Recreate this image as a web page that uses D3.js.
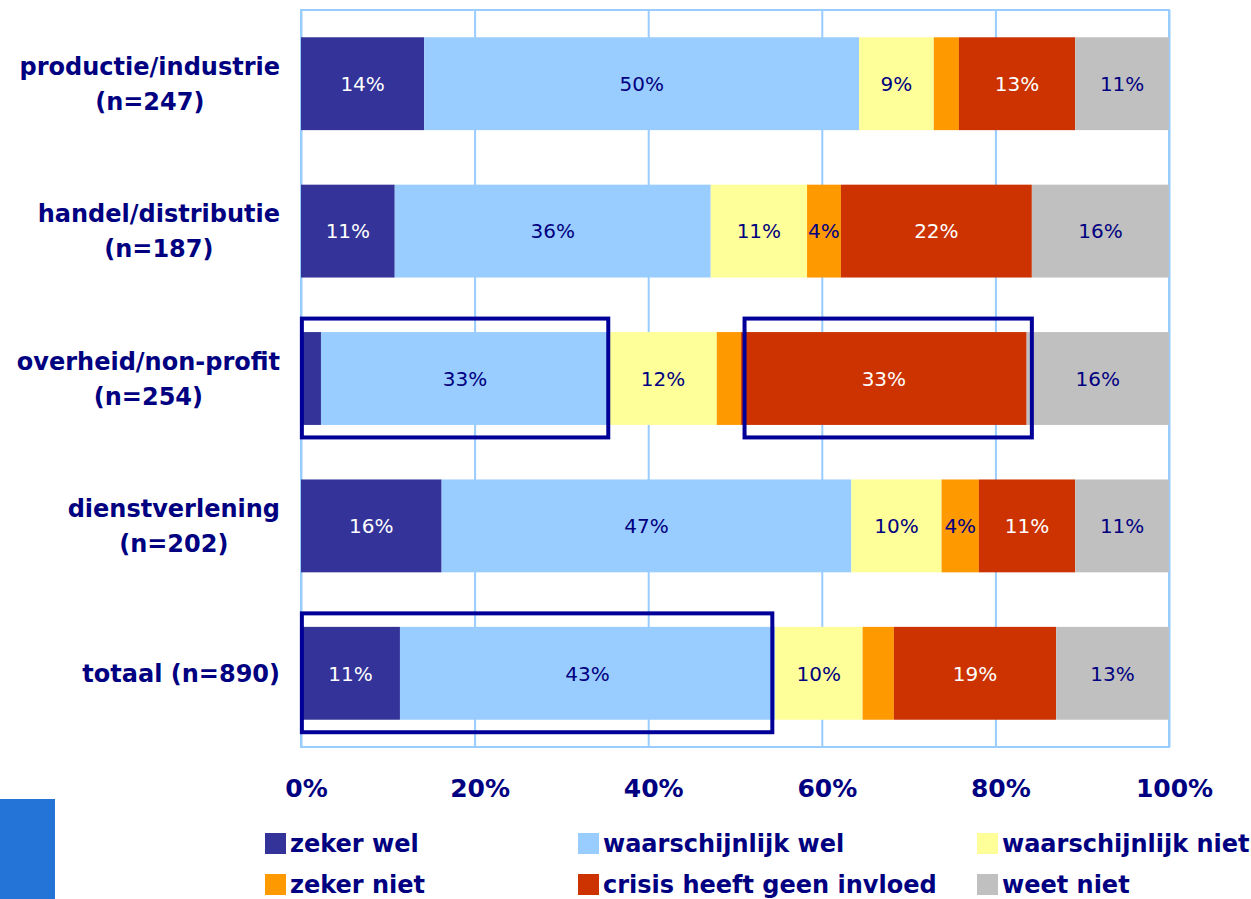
<!DOCTYPE html>
<html>
<head>
<meta charset="utf-8">
<script src="https://cdn.jsdelivr.net/npm/d3@7"></script>
<style>
  html, body { margin: 0; padding: 0; background: #ffffff; }
  svg { display: block; }
</style>
</head>
<body>
<svg id="chart" width="1251" height="899"></svg>
<script>
// ---- data ----
const categories = [
  "productie/industrie\n(n=247)",
  "handel/distributie\n(n=187)",
  "overheid/non-profit\n(n=254)",
  "dienstverlening\n(n=202)",
  "totaal (n=890)"
];
const seriesNames = ["zeker wel", "waarschijnlijk wel", "waarschijnlijk niet", "zeker niet", "crisis heeft geen invloed", "weet niet"];
const zekerWel           = [14.2, 10.8,  2.3, 16.2, 11.4];
const waarschijnlijkWel  = [50.1, 36.4, 33.2, 47.2, 43.2];
const waarschijnlijkNiet = [ 8.6, 11.1, 12.4, 10.4, 10.1];
const zekerNiet          = [ 2.9,  3.9,  2.8,  4.3,  3.6];
const crisisGeenInvloed  = [13.4, 22.0, 32.9, 11.1, 18.7];
const weetNiet           = [10.8, 15.8, 16.4, 10.8, 13.0];
const tickValues = [0, 20, 40, 60, 80, 100];
const tickLabels = ["0%", "20%", "40%", "60%", "80%", "100%"];
// highlight boxes (category index, from %, to %)
const boxCategory = [2, 2, 4];
const boxFrom     = [0.1, 51.1, 0.1];
const boxTo       = [35.4, 84.2, 54.3];

// ---- styles ----
const colors = ["#333399", "#99CCFF", "#FFFF99", "#FF9900", "#CC3300", "#C0C0C0"];
const labelColors = ["#ffffff", "#000080", "#000080", "#000080", "#ffffff", "#000080"];
const navy = "#000080";
const gridColor = "#99CCFF";

const seriesValues = [zekerWel, waarschijnlijkWel, waarschijnlijkNiet, zekerNiet, crisisGeenInvloed, weetNiet];
const rows = categories.map((c, i) => {
  const r = { cat: c };
  seriesNames.forEach((s, j) => r[s] = seriesValues[j][i]);
  return r;
});
const stacked = d3.stack().keys(seriesNames)(rows);

const svg = d3.select("#chart");
const plot = { left: 301, right: 1169, top: 10, bottom: 747 };

const x = d3.scaleLinear().domain([0, 100]).range([plot.left, plot.right]);
const y = d3.scaleBand().domain(categories).range([plot.top, plot.bottom])
  .paddingInner(0.37).paddingOuter(0.185);

// gridlines
const grid = svg.append("g")
  .attr("transform", `translate(0,${plot.top})`)
  .call(d3.axisBottom(x).tickValues(tickValues).tickSize(plot.bottom - plot.top).tickFormat(""));
grid.select(".domain").remove();
grid.selectAll(".tick line").attr("stroke", gridColor).attr("stroke-width", 2);

// frame
svg.append("rect")
  .attr("x", plot.left).attr("y", plot.top)
  .attr("width", plot.right - plot.left).attr("height", plot.bottom - plot.top)
  .attr("fill", "none").attr("stroke", gridColor).attr("stroke-width", 2);

// bars
const layers = svg.append("g").selectAll("g").data(stacked).join("g")
  .attr("fill", (d, i) => colors[i]);
layers.selectAll("rect").data(d => d).join("rect")
  .attr("x", d => x(d[0]))
  .attr("y", d => y(d.data.cat))
  .attr("width", d => x(d[1]) - x(d[0]))
  .attr("height", y.bandwidth());

// segment labels
stacked.forEach((layer, i) => {
  svg.append("g").selectAll("text").data(layer.filter(d => (d[1] - d[0]) >= 3.75)).join("text")
    .attr("x", d => (x(d[0]) + x(d[1])) / 2)
    .attr("y", d => y(d.data.cat) + y.bandwidth() / 2)
    .attr("dy", "0.36em")
    .attr("text-anchor", "middle")
    .attr("font-family", "'DejaVu Sans', sans-serif")
    .attr("font-size", 20)
    .attr("fill", labelColors[i])
    .text(d => Math.round(d[1] - d[0]) + "%");
});

// highlight boxes
svg.append("g").selectAll("rect").data(boxCategory).join("rect")
  .attr("x", (c, i) => x(boxFrom[i]))
  .attr("y", c => y(categories[c]) - 13.5)
  .attr("width", (c, i) => x(boxTo[i]) - x(boxFrom[i]))
  .attr("height", y.bandwidth() + 26)
  .attr("fill", "none")
  .attr("stroke", "#000099")
  .attr("stroke-width", 4);

// x axis tick labels
const xAxis = svg.append("g")
  .attr("transform", `translate(5,${plot.bottom})`)
  .call(d3.axisBottom(x).tickValues(tickValues).tickSize(0).tickPadding(0)
    .tickFormat((d, i) => tickLabels[i]));
xAxis.select(".domain").remove();
xAxis.selectAll("text")
  .attr("y", 50).attr("dy", 0)
  .attr("font-family", "'DejaVu Sans', sans-serif")
  .attr("font-weight", "bold")
  .attr("font-size", 25)
  .attr("fill", navy);

// category labels (block right-aligned, lines centred)
const catG = svg.append("g");
categories.forEach(c => {
  const lines = c.split("\n");
  const cy = y(c) + y.bandwidth() / 2;
  const lh = 35;
  const t = catG.append("text")
    .attr("font-family", "'DejaVu Sans', sans-serif")
    .attr("font-weight", "bold")
    .attr("font-size", 24)
    .attr("fill", navy)
    .attr("text-anchor", "middle");
  const tsp = lines.map((l, k) => t.append("tspan")
    .attr("y", cy + (k - (lines.length - 1) / 2) * lh)
    .attr("dy", "0.36em")
    .text(l));
  const maxW = d3.max(tsp, s => s.node().getComputedTextLength());
  tsp.forEach(s => s.attr("x", 280 - maxW / 2));
});

// legend
const legX = [265, 578, 977];
const legY = [833, 874];
const leg = svg.append("g");
seriesNames.forEach((s, i) => {
  const col = i % 3, row = Math.floor(i / 3);
  leg.append("rect")
    .attr("x", legX[col]).attr("y", legY[row])
    .attr("width", 21).attr("height", 21)
    .attr("fill", colors[i]);
  leg.append("text")
    .attr("x", legX[col] + 25).attr("y", legY[row] + 19)
    .attr("font-family", "'DejaVu Sans', sans-serif")
    .attr("font-weight", "bold")
    .attr("font-size", 24)
    .attr("fill", navy)
    .text(s);
});

// decorative slide element bottom-left
svg.append("rect").attr("x", 0).attr("y", 799).attr("width", 55).attr("height", 100).attr("fill", "#2474D8");
</script>
</body>
</html>
